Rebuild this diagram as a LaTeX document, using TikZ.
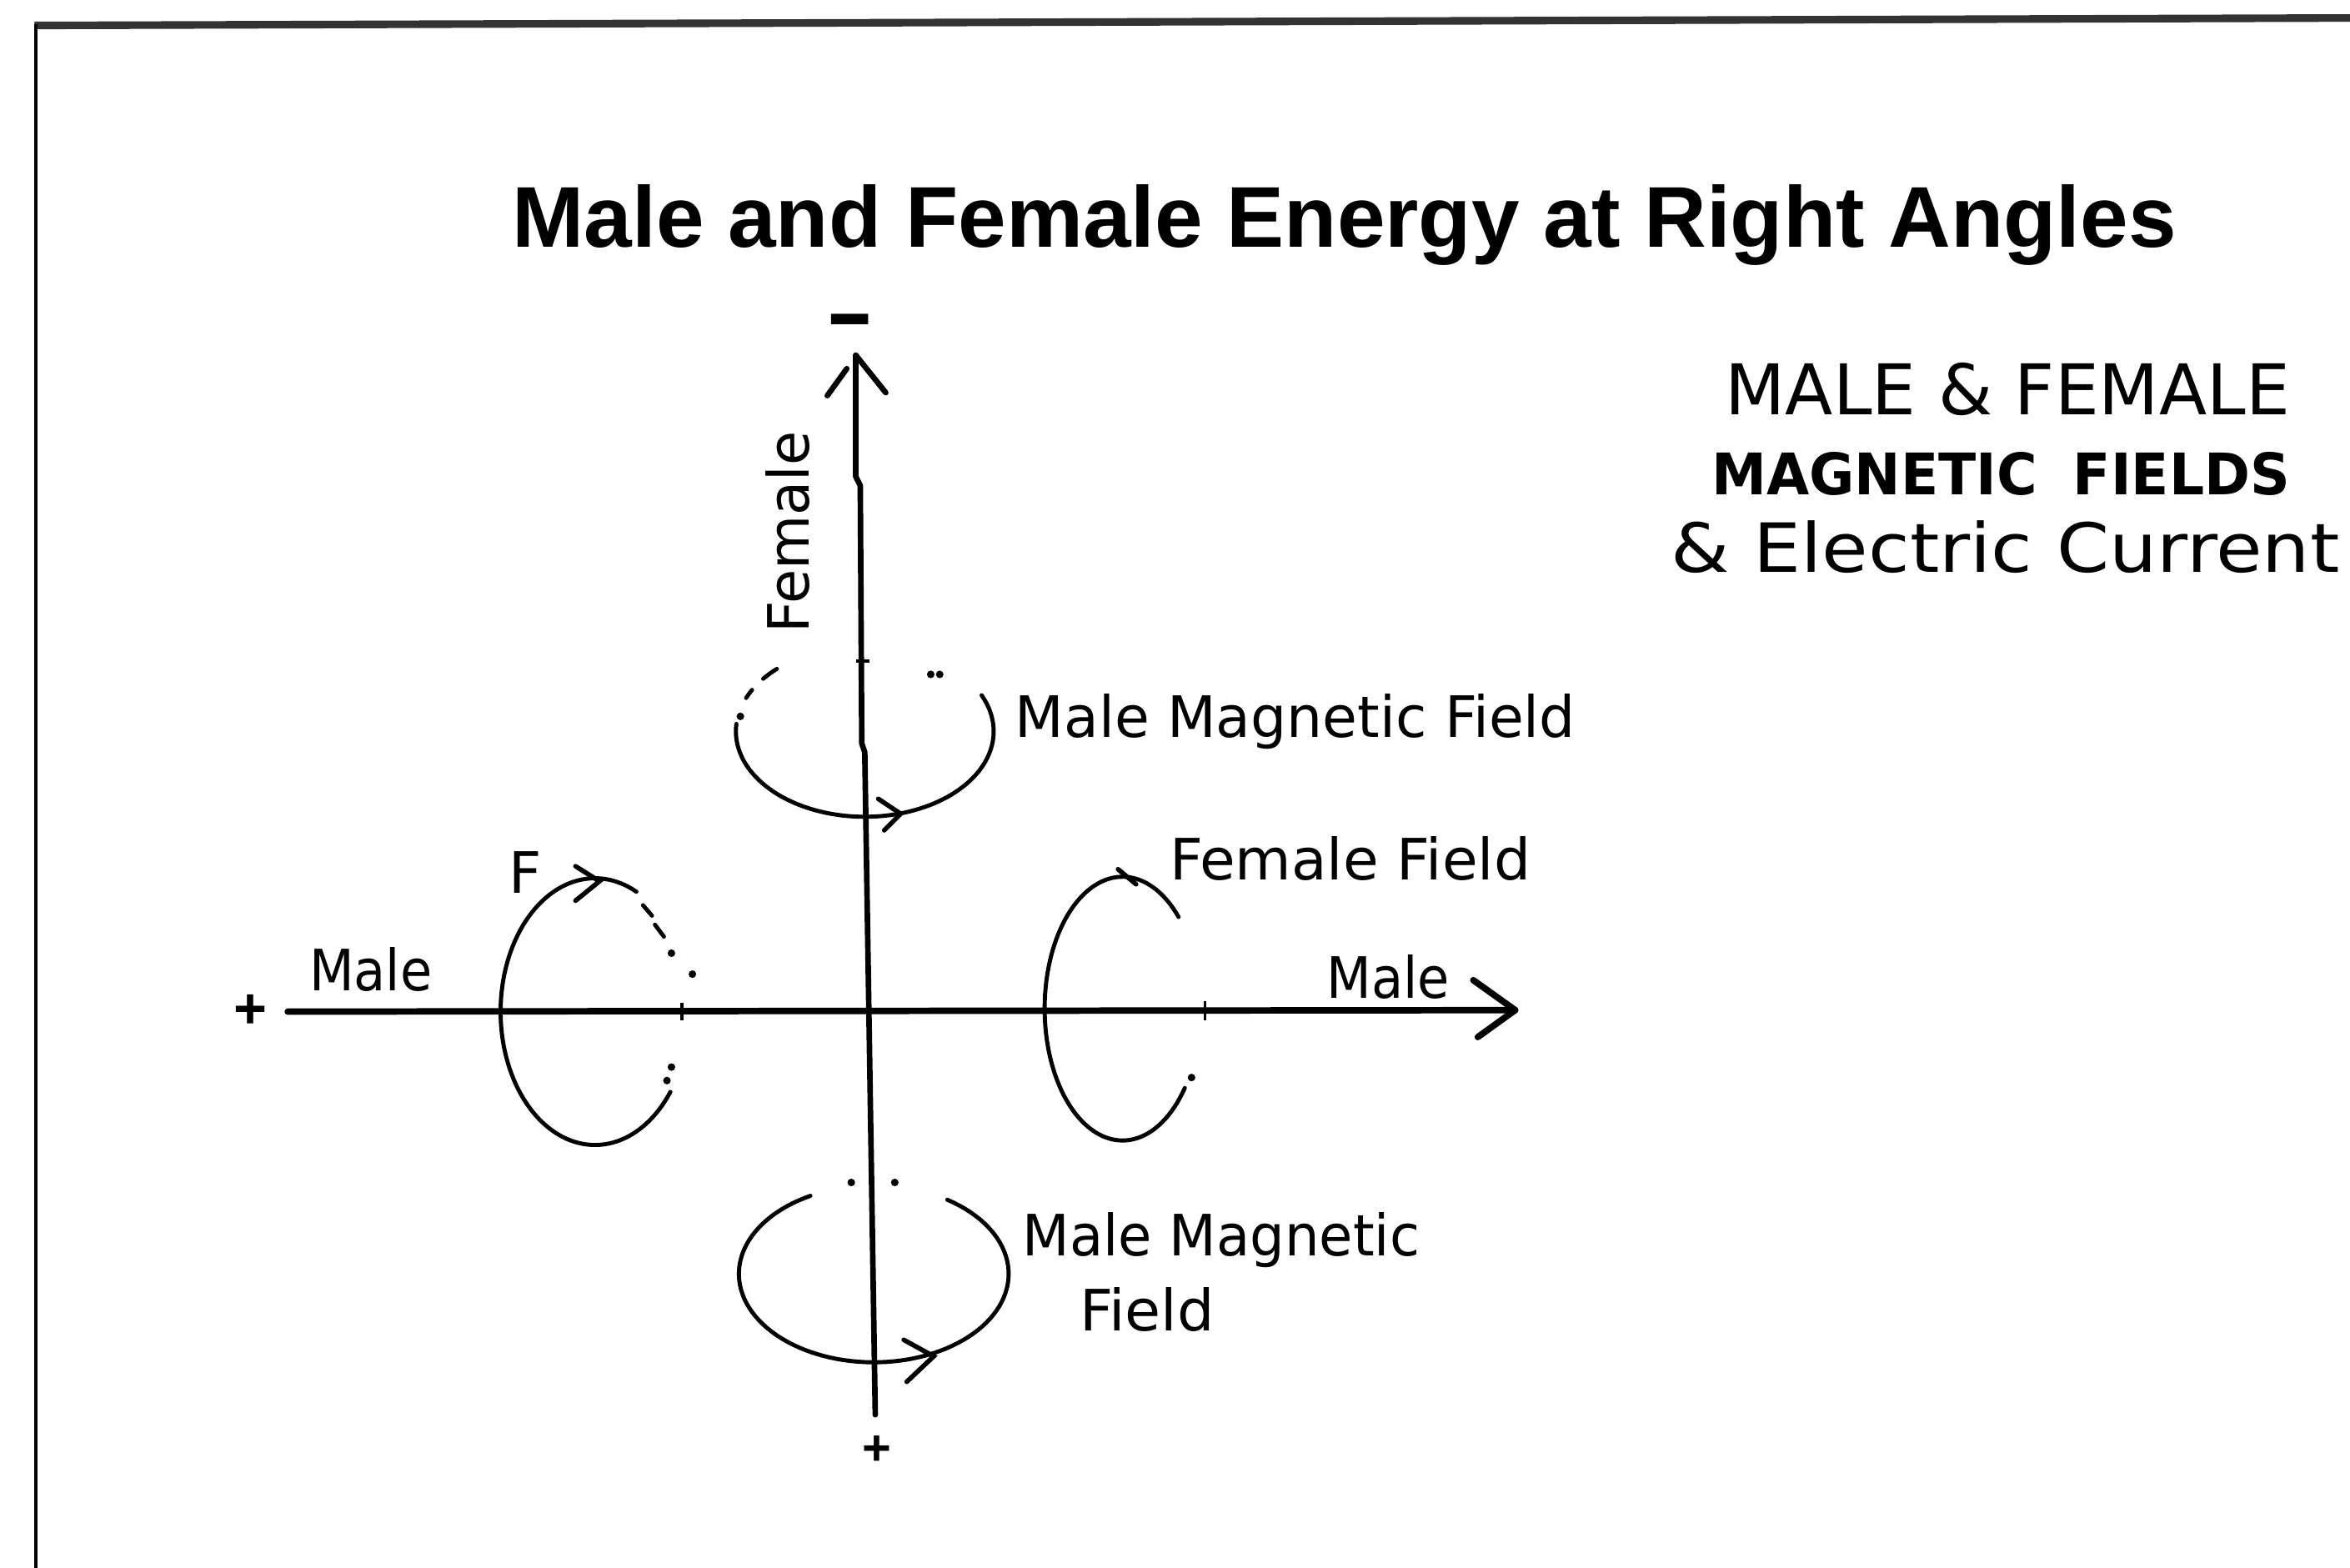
\documentclass[tikz,border=0pt]{standalone}
\usepackage{fontspec}
\usepackage{graphicx}
\setmainfont{DejaVu Sans}
\newfontfamily\helv{Liberation Sans}
\newcommand{\fw}[2]{\resizebox{#1pt}{\height}{#2}}
\begin{document}
\begin{tikzpicture}[x=0.018cm,y=-0.018cm,
  haxis/.style={line width=2.2pt, line cap=round, line join=round},
  vaxis/.style={line width=1.9pt, line cap=round, line join=round},
  fieldloop/.style={line width=1.4pt, line cap=round},
  barb/.style={line width=1.6pt, line cap=round, line join=miter},
  tickmark/.style={line width=1pt},
  lbl/.style={inner sep=0pt, anchor=base west, font=\fontsize{19.5}{22}\selectfont},
  legend/.style={inner sep=0pt, anchor=base},
  dotmark/.style={fill=black, circle, inner sep=0pt, minimum size=2.6pt}]
\useasboundingbox[fill=white] (0,0) rectangle (1568,1046);

% frame
\draw[line width=2.6pt, black!80] (23,17) -- (1568,12);
\draw[line width=1.1pt] (24,16) -- (24,1046);

% title
\node[anchor=base, inner sep=0pt] (title) at (897,165)
  {\helv\bfseries\fontsize{29.5}{34}\selectfont Male and Female Energy at Right Angles};

% right-hand legend
\node[legend] (leg1) at (1339.5,277)
  {\fontsize{23.9}{28}\selectfont\fw{193}{MALE \& FEMALE}};
\node[legend] (leg2) at (1335,330)
  {\bfseries\fontsize{19.6}{23}\selectfont\fw{197.7}{MAGNETIC\hspace{0.3em} FIELDS}};
\node[legend] (leg3) at (1338,382)
  {\fontsize{23.2}{27}\selectfont\fw{228.4}{\& Electric Current}};

% axes
\coordinate (hx0) at (192,675);
\coordinate (hx1) at (1011,674);
\coordinate (vtop) at (571,237);
\coordinate (vbot) at (584,944);
\draw[haxis] (hx0) -- (hx1);
\draw[haxis] (983,654) -- (hx1) -- (986,692);
\draw[vaxis] (vtop) -- (571,318) -- (574,324) -- (575,496) -- (577,502) -- (vbot);
\draw[vaxis] (vtop) -- (591,262);
\draw[vaxis] (565,246) -- (552,264);

% ticks
\draw[tickmark] (455,669) -- (455,681);
\draw[tickmark] (804,668) -- (804,681);
\draw[tickmark] (571,441) -- (580,441);

% signs
\node[inner sep=0pt] (plusL) at (167,675) {\helv\bfseries\fontsize{19.5}{22}\selectfont +};
\node[inner sep=0pt] (plusB) at (585,968) {\helv\bfseries\fontsize{17}{20}\selectfont +};
\node[inner sep=0pt] (minusT) at (567,219) {\helv\bfseries\fontsize{40}{44}\selectfont\scalebox{1.25}[0.75]{-}};

% axis labels
\node[lbl, rotate=90] (female) at (540,423) {\fw{69}{Female}};
\node[lbl] (maleL) at (206,661) {\fw{42}{Male}};
\node[lbl] (maleR) at (885,666) {\fw{42}{Male}};
\node[lbl] (fL) at (339,596) {F};

% top loop (male magnetic field)
\draw[fieldloop] plot[domain=175:385, samples=90] ({577+86*cos(\x)}, {488-57*sin(\x)});
\draw[fieldloop] plot[domain=133:142, samples=6] ({577+86*cos(\x)}, {488-57*sin(\x)});
\draw[fieldloop] plot[domain=151:157, samples=5] ({577+86*cos(\x)}, {488-57*sin(\x)});
\node[dotmark] (td1) at (494,478) {};
\node[dotmark] (td2) at (621,450) {};
\node[dotmark] (td3) at (627,450) {};
\draw[barb] (586,533) -- (601,543) -- (590,554);
\node[lbl] (mmf1) at (677,492) {\fw{191.5}{Male Magnetic Field}};

% bottom loop (male magnetic field)
\draw[fieldloop] plot[domain=118:417, samples=100] ({583+90*cos(\x)}, {850-59*sin(\x)});
\node[dotmark] (bd1) at (568,789) {};
\node[dotmark] (bd2) at (597,789) {};
\draw[barb] (603,894) -- (623,905) -- (605,922);
\node[lbl] (mmf2a) at (682,838) {\fw{135.7}{Male Magnetic}};
\node[lbl] (mmf2b) at (720,888) {\fw{46}{Field}};

% left loop (F)
\draw[fieldloop] plot[domain=64:323, samples=100] ({397+63*cos(\x)}, {675-89*sin(\x)});
\draw[fieldloop] (429,604) -- (435,611);
\draw[fieldloop] (437,617) -- (443,625);
\node[dotmark] (ld1) at (448,636) {};
\node[dotmark] (ld2) at (462,650) {};
\node[dotmark] (ld3) at (448,712) {};
\node[dotmark] (ld4) at (445,721) {};
\draw[barb] (384,578) -- (400,588) -- (384,601);

% right loop (female field)
\draw[fieldloop] plot[domain=44:323, samples=100] ({749+52*cos(\x)}, {673-88*sin(\x)});
\node[dotmark] (rd1) at (795,719) {};
\draw[barb] (746,580) -- (758,590);
\node[lbl] (ff) at (780,587) {\fw{123.4}{Female Field}};
\end{tikzpicture}
\end{document}
